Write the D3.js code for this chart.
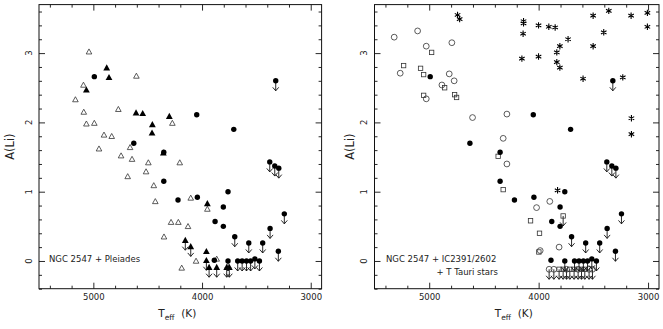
<!DOCTYPE html>
<html><head><meta charset="utf-8">
<script src="https://cdn.jsdelivr.net/npm/d3@7"></script>
<style>
html,body{margin:0;padding:0;background:#fff;}
svg{display:block;}
text{font-family:"DejaVu Sans",sans-serif;fill:#222;}
</style></head><body>
<svg id="c" width="663" height="329"></svg>
<script>
// ---- axis data ----
const xDomain = [5500, 2900];
const yDomain = [-0.4, 3.7];
const xTickMajor = [5000, 4000, 3000];
const xTickMinor = [5400, 5200, 4800, 4600, 4400, 4200, 3800, 3600, 3400, 3200];
const yTickMajor = [0, 1, 2, 3];
const yTickMinor = [-0.4, -0.2, 0.2, 0.4, 0.6, 0.8, 1.2, 1.4, 1.6, 1.8, 2.2, 2.4, 2.6, 2.8, 3.2, 3.4, 3.6];
const xTitle = ["T", "eff", " (K)"];
const yTitle = "A(Li)";

// ---- series: [Teff, A(Li), upperLimit] ----
const ngc2547 = [
 [4991,2.66,0],[4049,2.11,0],[3708,1.90,0],[4628,1.70,0],[3322,2.60,1],[4352,1.57,0],
 [3377,1.43,1],[3331,1.37,1],[3294,1.34,1],[4352,1.15,0],[4221,0.88,0],[4043,0.92,0],
 [3761,1.00,0],[3804,0.78,0],[3880,0.57,0],[3804,0.50,0],[3699,0.35,1],[3570,0.26,1],
 [3442,0.26,1],[3374,0.47,1],[3243,0.68,1],[3298,0.14,1],[3887,0.01,0],[3761,0.00,1],
 [3672,0.00,1],[3631,0.00,1],[3591,0.00,1],[3553,0.00,1],[3514,0.03,1],[3472,0.00,1]
];
const pleiadesFilled = [
 [4877,2.79,0],[4856,2.65,0],[5064,2.47,0],[4607,2.14,0],[4546,2.13,0],[4301,2.09,0],
 [4457,1.97,0],[4460,1.85,0],[4356,1.56,0],[3951,0.83,0],[4154,0.30,1],[4104,0.21,1],
 [3960,0.14,0],[3960,0.01,1],[3935,-0.09,1],[3865,-0.09,1],[3773,-0.09,1],[3749,-0.09,1]
];
const pleiadesOpen = [
 [5040,3.02,0],[4604,2.67,0],[5091,2.54,0],[5165,2.33,0],[5088,2.15,0],[5064,1.98,0],
 [4991,1.99,0],[4770,2.19,0],[4273,1.99,0],[4902,1.82,0],[4831,1.80,0],[4948,1.62,0],
 [4662,1.64,0],[4745,1.52,0],[4644,1.47,0],[4494,1.42,0],[4205,1.42,0],[4684,1.22,0],
 [4515,1.29,0],[4444,1.09,0],[4430,0.86,0],[4104,0.91,0],[3951,0.75,0],[4285,0.56,0],
 [4218,0.56,0],[4129,0.50,0],[4350,0.35,0],[4055,0.00,0],[4187,-0.10,0],[3865,0.03,0]
];
const icCircles = [
 [5320,3.23,0],[5106,3.32,0],[5027,3.10,0],[4793,3.15,0],[5265,2.71,0],[4817,2.70,0],
 [4772,2.60,0],[4884,2.54,0],[5027,2.34,0],[4604,2.07,0],[4290,2.12,0],[4324,1.77,0],
 [4290,1.40,0],[4019,0.77,0],[3898,0.86,0],[3813,0.20,0],[3986,0.15,0],
 [3904,-0.12,1],[3861,-0.12,1],[3745,-0.12,1],[3639,-0.12,1],[3539,-0.12,1],[3508,-0.12,1]
];
const icSquares = [
 [5234,2.82,0],[4978,3.01,0],[5079,2.78,0],[5051,2.69,0],[5051,2.39,0],[4859,2.50,0],
 [4768,2.40,0],[4750,2.36,0],[4370,1.51,0],[4324,1.03,0],[4074,0.58,0],[3992,0.40,0],
 [3998,0.13,0],[3776,0.65,1],
 [3813,-0.12,1],[3776,-0.12,1],[3715,-0.12,1],[3676,-0.12,1],[3608,-0.12,1],[3578,-0.12,1]
];
const tTauri = [
 [4741,3.55,0],[4722,3.49,0],[4138,3.46,0],[4138,3.43,0],[4142,3.28,0],[4153,2.92,0],
 [4001,3.40,0],[4001,2.95,0],[3907,3.38,0],[3849,3.37,0],[3806,3.10,0],[3834,3.01,0],
 [3834,2.87,0],[3806,2.79,0],[3731,3.20,0],[3594,2.63,0],[3502,3.54,0],[3502,3.10,0],
 [3405,3.30,0],[3359,3.61,0],[3359,3.74,0],[3231,2.65,0],[3155,3.54,0],[3152,2.06,0],
 [3152,1.83,0],[3006,3.58,0],[3006,3.38,0],[3827,1.02,0]
];
const legendLeft = ["NGC 2547 + Pleiades"];
const legendRight = ["NGC 2547 + IC2391/2602", "+ T Tauri stars"];

// ---- layout ----
const svg = d3.select("#c");
const yTop = 4.6, yBot = 288.7;
const panels = [
  {id:"L", x0:39, x1:321.6, ylabX:14, legend:legendLeft, legendX:[49,49], legendAnchor:["start","start"],
   series:[{d:pleiadesOpen,m:"otri"},{d:pleiadesFilled,m:"ftri"},{d:ngc2547,m:"fcirc"}]},
  {id:"R", x0:374.5, x1:659, ylabX:354, legend:legendRight, legendX:[386,498], legendAnchor:["start","end"],
   series:[{d:icCircles,m:"ocirc"},{d:icSquares,m:"osq"},{d:tTauri,m:"ast"},{d:ngc2547,m:"fcirc"}]}
];

function drawMarker(g, m, x, y) {
  if (m === "fcirc") {
    g.append("circle").attr("cx",x).attr("cy",y).attr("r",2.7).attr("fill","#000");
  } else if (m === "ocirc") {
    g.append("circle").attr("cx",x).attr("cy",y).attr("r",2.9).attr("fill","none").attr("stroke","#333").attr("stroke-width",0.8);
  } else if (m === "osq") {
    g.append("rect").attr("x",x-2.2).attr("y",y-2.2).attr("width",4.4).attr("height",4.4).attr("fill","none").attr("stroke","#333").attr("stroke-width",0.8);
  } else if (m === "ftri") {
    const s = 3.4;
    g.append("path").attr("d",`M${x},${y-s}L${x+s},${y+s*0.8}L${x-s},${y+s*0.8}Z`).attr("fill","#000");
  } else if (m === "otri") {
    const s = 2.8;
    g.append("path").attr("d",`M${x},${y-s}L${x+s},${y+s*0.8}L${x-s},${y+s*0.8}Z`).attr("fill","none").attr("stroke","#333").attr("stroke-width",0.8);
  } else if (m === "ast") {
    const r = 3.2, dx = r*Math.cos(Math.PI/6), dy = r*Math.sin(Math.PI/6);
    g.append("path").attr("d",`M${x},${y-r}L${x},${y+r}M${x-dx},${y-dy}L${x+dx},${y+dy}M${x-dx},${y+dy}L${x+dx},${y-dy}`)
      .attr("stroke","#000").attr("stroke-width",1.1).attr("fill","none");
  }
}
function drawArrow(g, x, y) {
  g.append("path").attr("d",`M${x},${y}L${x},${y+10}M${x-3},${y+6.5}L${x},${y+10}L${x+3},${y+6.5}`)
    .attr("stroke","#111").attr("stroke-width",0.9).attr("fill","none");
}

panels.forEach(p => {
  const x = d3.scaleLinear().domain(xDomain).range([p.x0, p.x1]);
  const y = d3.scaleLinear().domain(yDomain).range([yBot, yTop]);
  const g = svg.append("g");
  const clipId = "clip" + p.id;
  svg.append("clipPath").attr("id", clipId).append("rect")
    .attr("x", p.x0).attr("y", yTop).attr("width", p.x1 - p.x0).attr("height", yBot - yTop);

  // axes: minor + major ticks on all sides, inward
  const mk = (axisFn, scale, vals, size, tr, fmt, pad) => {
    const a = axisFn(scale).tickValues(vals).tickSize(size).tickPadding(pad||3).tickFormat(fmt || (() => ""));
    const ag = g.append("g").attr("transform", tr).call(a);
    ag.select(".domain").remove();
    ag.selectAll("line").attr("stroke","#111").attr("stroke-width",0.9);
    return ag;
  };
  mk(d3.axisBottom, x, xTickMinor, -3, `translate(0,${yBot})`);
  const xb = mk(d3.axisBottom, x, xTickMajor, -6, `translate(0,${yBot})`, d3.format("d"), 5);
  xb.selectAll("text").attr("font-size", 8.5).attr("font-family", '"DejaVu Sans",sans-serif').attr("fill", "#222");
  mk(d3.axisTop, x, xTickMinor, -3, `translate(0,${yTop})`);
  mk(d3.axisTop, x, xTickMajor, -6, `translate(0,${yTop})`);
  mk(d3.axisLeft, y, yTickMinor, -3, `translate(${p.x0},0)`);
  mk(d3.axisLeft, y, yTickMajor, -6, `translate(${p.x0},0)`);
  mk(d3.axisRight, y, yTickMinor, -3, `translate(${p.x1},0)`);
  mk(d3.axisRight, y, yTickMajor, -6, `translate(${p.x1},0)`);

  // rotated y tick labels
  g.selectAll("text.ylab").data(yTickMajor).enter().append("text")
    .attr("class","ylab")
    .attr("transform", d => `translate(${p.x0 - 7.5},${y(d)}) rotate(-90)`)
    .attr("text-anchor","middle").attr("font-size", 8.5).text(d => d);

  // frame
  g.append("rect").attr("x",p.x0).attr("y",yTop).attr("width",p.x1-p.x0).attr("height",yBot-yTop)
    .attr("fill","none").attr("stroke","#111").attr("stroke-width",1);

  // axis titles
  const cx = (p.x0 + p.x1) / 2 - 3;
  const t = g.append("text").attr("x", cx).attr("y", 316.5).attr("text-anchor","middle").attr("font-size", 10.5);
  t.append("tspan").text(xTitle[0]);
  t.append("tspan").attr("font-size", 7.5).attr("dy", 3).text(xTitle[1]);
  t.append("tspan").attr("dy", -3).attr("xml:space","preserve").text("\u00a0" + xTitle[2]);
  g.append("text").attr("transform", `translate(${p.ylabX},${(yTop+yBot)/2}) rotate(-90)`)
    .attr("text-anchor","middle").attr("font-size", 11.5).text(yTitle);

  // legend
  p.legend.forEach((s, i) => {
    g.append("text").attr("x", p.legendX[i]).attr("y", 262 + i*13.3).attr("text-anchor", p.legendAnchor[i])
      .attr("font-size", 8.5).text(s);
  });

  // data
  const dg = g.append("g").attr("clip-path", `url(#${clipId})`);
  p.series.forEach(s => {
    s.d.forEach(d => {
      const px = x(d[0]), py = y(d[1]);
      if (d[2]) drawArrow(dg, px, py);
      drawMarker(dg, s.m, px, py);
    });
  });
});
</script>
</body></html>
